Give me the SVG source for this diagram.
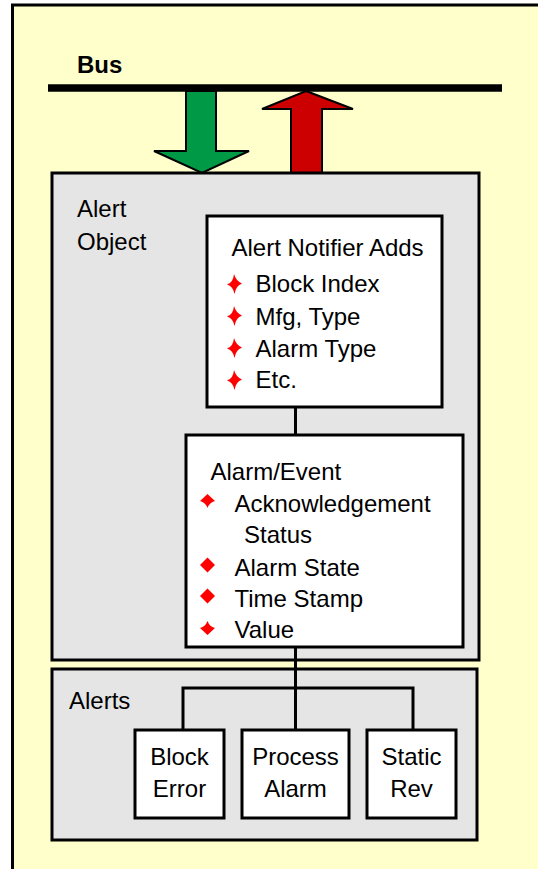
<svg xmlns="http://www.w3.org/2000/svg" width="538" height="869" viewBox="0 0 538 869">
  <style>
    .t { font-family: "Liberation Sans", Arial, sans-serif; font-size: 24px; fill: #000; }
    .b { font-weight: bold; }
    .mid { text-anchor: middle; }
    .panel { fill: #E5E5E5; stroke: #000; stroke-width: 3; }
    .box { fill: #FFFFFF; stroke: #000; stroke-width: 3; }
    .wire { fill: none; stroke: #000; stroke-width: 3; }
    .bul { fill: #FF0000; }
  </style>
  <defs>
    <!-- four-point star bullet, long point to the left -->
    <path id="star" d="M-7,0.5 Q-1,-1 0,-10 Q2,-3 8,-0.5 Q2,1.5 0.5,10 Q-1,2 -7,0.5 Z"/>
    <!-- diamond bullet -->
    <path id="dia" d="M0,-7.5 L7.5,0 L0,7.5 L-7.5,0 Z"/>
    <!-- diamond bullet with pinched lower half -->
    <path id="diaLow" d="M0,-7 L7.5,0 Q2,1.5 0,7 Q-2,1.5 -7.5,0 Z"/>
    <!-- diamond bullet with pinched upper half -->
    <path id="diaHigh" d="M0,-7 Q2,-1.5 7.5,0 L0,7 L-7.5,0 Q-2,-1.5 0,-7 Z"/>
  </defs>

  <!-- page background and frame -->
  <rect x="0" y="0" width="538" height="869" fill="#FFFFFF"/>
  <rect x="12.5" y="5" width="600" height="900" fill="#FFFFCC" stroke="#000" stroke-width="3"/>

  <!-- bus -->
  <g id="bus">
    <line x1="48" y1="88" x2="502" y2="88" stroke="#000" stroke-width="7.5"/>
    <text class="t b" x="77" y="73" font-size="25">Bus</text>
  </g>

  <!-- traffic arrows between bus and alert object -->
  <g id="arrow-down">
    <polygon points="186,91 216,91 216,151 249,151 202,173 154,151 186,151" fill="#009A46" stroke="#000" stroke-width="2"/>
  </g>
  <g id="arrow-up">
    <polygon points="306,91 353,109 322,109 322,173 291,173 291,109 262,109" fill="#CC0000" stroke="#000" stroke-width="2"/>
  </g>

  <!-- alert object container -->
  <g id="alert-object">
    <rect class="panel" x="52" y="173" width="427" height="487"/>
    <text class="t" x="77" y="217">Alert</text>
    <text class="t" x="77" y="250">Object</text>
  </g>

  <!-- alerts container -->
  <g id="alerts">
    <rect class="panel" x="52" y="669" width="425" height="171"/>
    <text class="t" x="69" y="709">Alerts</text>
  </g>

  <!-- connectors -->
  <g id="connectors">
    <line class="wire" x1="295.5" y1="407" x2="295.5" y2="435"/>
    <line class="wire" x1="295.5" y1="647" x2="295.5" y2="730"/>
    <polyline class="wire" points="183,730 183,688 413,688 413,730"/>
  </g>

  <!-- notifier box -->
  <g id="alert-notifier">
    <rect class="box" x="207" y="216" width="235" height="191"/>
    <text class="t" x="231.5" y="256">Alert Notifier Adds</text>
    <use href="#star" class="bul" x="234" y="284"/>
    <text class="t" x="255.5" y="292">Block Index</text>
    <use href="#star" class="bul" x="234" y="316"/>
    <text class="t" x="255.5" y="325">Mfg, Type</text>
    <use href="#star" class="bul" x="234" y="348"/>
    <text class="t" x="255.5" y="357">Alarm Type</text>
    <use href="#star" class="bul" x="234" y="380"/>
    <text class="t" x="255.5" y="388">Etc.</text>
  </g>

  <!-- alarm / event box -->
  <g id="alarm-event">
    <rect class="box" x="186" y="435" width="277" height="212"/>
    <text class="t" x="210.5" y="480">Alarm/Event</text>
    <use href="#diaLow" class="bul" x="207.5" y="501"/>
    <text class="t" x="234.5" y="512">Acknowledgement</text>
    <text class="t" x="244" y="543">Status</text>
    <use href="#dia" class="bul" x="207.5" y="565"/>
    <text class="t" x="234.5" y="576">Alarm State</text>
    <use href="#dia" class="bul" x="207.5" y="596"/>
    <text class="t" x="234.5" y="607">Time Stamp</text>
    <use href="#diaHigh" class="bul" x="207.5" y="628"/>
    <text class="t" x="234.5" y="638">Value</text>
  </g>

  <!-- alert kinds -->
  <g id="block-error">
    <rect class="box" x="135" y="730" width="89" height="88"/>
    <text class="t mid" x="179.5" y="765">Block</text>
    <text class="t mid" x="179.5" y="797">Error</text>
  </g>
  <g id="process-alarm">
    <rect class="box" x="242" y="730" width="107" height="88"/>
    <text class="t mid" x="295.5" y="765">Process</text>
    <text class="t mid" x="295.5" y="797">Alarm</text>
  </g>
  <g id="static-rev">
    <rect class="box" x="367" y="730" width="89" height="88"/>
    <text class="t mid" x="411.5" y="765">Static</text>
    <text class="t mid" x="411.5" y="797">Rev</text>
  </g>
</svg>
